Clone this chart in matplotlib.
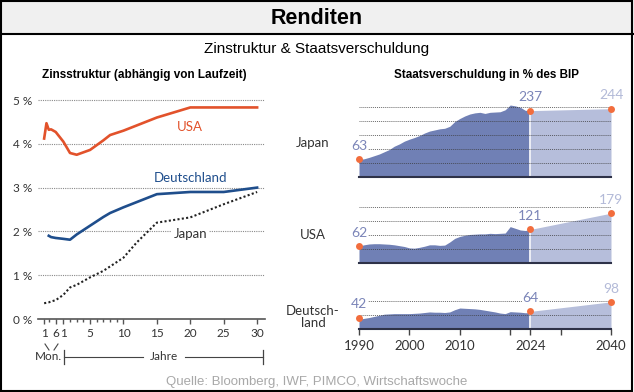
import numpy as np
import matplotlib
matplotlib.use("Agg")
import matplotlib.pyplot as plt
from matplotlib import font_manager
from matplotlib.lines import Line2D
from matplotlib.patches import Rectangle

# --- yield curve (left) ---
MATURITY = [1/12, 2/12, 3/12, 4/12, 6/12, 1, 2, 3, 5, 7, 8, 10, 12, 15, 20, 25, 30]
USA_YIELD = [4.12, 4.47, 4.32, 4.33, 4.27, 4.05, 3.79, 3.75, 3.86, 4.08, 4.20, 4.30, 4.42, 4.60, 4.83, 4.83, 4.83]
DE_YIELD = [np.nan, np.nan, 1.90, 1.87, 1.85, 1.83, 1.81, 1.93, 2.13, 2.33, 2.42, 2.55, 2.67, 2.85, 2.90, 2.90, 3.00]
JP_YIELD = [0.36, 0.37, 0.38, 0.40, 0.43, 0.55, 0.72, 0.78, 0.95, 1.10, 1.20, 1.40, 1.75, 2.20, 2.32, 2.62, 2.90]
YIELD_TICKS = [0, 1, 2, 3, 4, 5]
MAT_TICKS = [1/12, 0.5, 1, 5, 10, 15, 20, 25, 30]
MAT_TICK_LABELS = ["1", "6", "1", "5", "10", "15", "20", "25", "30"]
MAT_MINOR = [0.25, 2, 3, 4, 6, 7, 8, 9]

# --- debt in % of GDP (right) ---
YEARS = list(range(1990, 2025))
JP_DEBT = [63, 65, 70, 76, 82, 90, 98, 110, 118, 128, 135, 141, 148, 157, 164, 168, 172, 174,
           181, 198, 209, 218, 225, 229, 231, 227, 231, 232, 233, 240, 257, 254, 249, 238, 237]
US_DEBT = [62, 66, 69, 70, 70, 69, 68, 66, 63, 60, 55, 54, 57, 61, 66, 66, 64, 65,
           76, 89, 96, 100, 103, 104, 105, 105, 107, 106, 107, 108, 131, 125, 119, 117, 121]
DE_DEBT = [36, 39, 42, 46, 50, 54, 55, 56, 56, 56, 56, 57, 58, 60, 62, 61, 61, 60,
           62, 70, 76, 75, 74, 73, 71, 68, 65, 62, 58, 56, 63, 62, 61, 59, 60]
PROJ_YEARS = [2024, 2040]
JP_PROJ = [237, 244]
US_PROJ = [121, 179]
DE_PROJ = [64, 98]
JP_MARKS = [63, 237, 244]
US_MARKS = [62, 121, 179]
DE_MARKS = [42, 64, 98]
MARK_YEARS = [1990, 2024, 2040]
YEAR_TICKS = [1990, 2000, 2010, 2020, 2024, 2030, 2040]
YEAR_TICK_LABELS = ["1990", "2000", "2010", "", "2024", "", "2040"]

W, H = 634, 392
names = {f.name for f in font_manager.fontManager.ttflist}
NARROW = "Liberation Sans Narrow" if "Liberation Sans Narrow" in names else "Liberation Sans"
ROUND = "Lato"

ORANGE = "#e2522b"
BLUE = "#1f4e8c"
DARK_AREA = "#7080b5"
LIGHT_AREA = "#b6bedb"
DARK_LBL = "#7b85b8"
LIGHT_LBL = "#b3bad8"
DOT = "#f26d3d"


def box(left, top, right, bottom):
    return [left / W, 1 - bottom / H, (right - left) / W, (bottom - top) / H]


def fx(x):
    return x / W


def fy(y):
    return 1 - y / H


# piecewise maturity scale: months squeezed left of the 1-year mark
_X = [-10, 1/12, 0.5, 1]
_P = [-1.87 - 4.15 * (10 + 1/12), -1.87, -0.14, 1]


def fwd(x):
    x = np.asarray(x, dtype=float)
    return np.where(x >= 1, x, np.interp(x, _X, _P))


def inv(p):
    p = np.asarray(p, dtype=float)
    return np.where(p >= 1, p, np.interp(p, _P, _X))


fig = plt.figure(figsize=(W / 100, H / 100), dpi=100)
fig.patch.set_facecolor("white")

# header bar and frame
fig.add_artist(Rectangle((0, fy(34)), 1, 34 / H, transform=fig.transFigure,
                         facecolor="#f0f0f0", edgecolor="none"))
fig.add_artist(Line2D([0, 1], [fy(34), fy(34)], color="black", lw=1.5))
fig.add_artist(Rectangle((fx(0.8), fy(390.5)), fx(632) - fx(0.8), fy(0.8) - fy(390.5),
                         transform=fig.transFigure, facecolor="none",
                         edgecolor="black", lw=1.5))
fig.text(0.5, fy(18), "Renditen", ha="center", va="center", fontsize=15.5,
         fontweight="bold", family=NARROW)
fig.text(fx(317), fy(49), "Zinstruktur & Staatsverschuldung", ha="center",
         va="center", fontsize=11, family=NARROW)
fig.text(fx(317), fy(382), "Quelle: Bloomberg, IWF, PIMCO, Wirtschaftswoche",
         ha="center", va="center", fontsize=9.5, color="#a8a8a8",
         family="Liberation Sans")

# ---------------- left: yield curve ----------------
px_per_pct = 43.8
ax = fig.add_axes(box(38, 319 - 5.05 * px_per_pct, 265, 319))
ax.set_xscale("function", functions=(fwd, inv))
ax.set_xlim(float(inv(-2.79)), 31.18)
ax.set_ylim(0, 5.05)
for v in YIELD_TICKS[1:]:
    ax.axhline(v, color="#8a8a8a", lw=0.8, ls=(0, (1, 1)), zorder=1)
ax.plot(MATURITY, JP_YIELD, color="#222222", lw=1.5, ls=(0, (1, 1.1)), zorder=3)
ax.plot(MATURITY, DE_YIELD, color=BLUE, lw=1.9, zorder=4)
ax.plot(MATURITY, USA_YIELD, color=ORANGE, lw=1.9, zorder=4)

ax.text(20, 4.38, "USA", color=ORANGE, ha="center", va="center", fontsize=9.5, family=ROUND)
ax.text(20, 3.22, "Deutschland", color=BLUE, ha="center", va="center", fontsize=9.5, family=ROUND)
ax.text(20, 1.94, "Japan", color="#333333", ha="center", va="center", fontsize=9.5,
        family=ROUND, zorder=2,
        bbox=dict(facecolor="white", edgecolor="none", pad=1.5))

for s in ["top", "right", "left"]:
    ax.spines[s].set_visible(False)
ax.spines["bottom"].set_color("#555555")
ax.spines["bottom"].set_linewidth(1.2)
ax.set_yticks(YIELD_TICKS)
ax.set_yticklabels([f"{v} %" for v in YIELD_TICKS], fontsize=8.5, family=ROUND, color="#333333")
ax.tick_params(axis="y", length=0, pad=4)
ax.set_xticks(MAT_TICKS)
ax.set_xticklabels(MAT_TICK_LABELS, fontsize=8.5, family=ROUND, color="#333333")
ax.set_xticks(MAT_MINOR, minor=True)
ax.tick_params(axis="x", which="major", length=3.6, width=1, color="#555555", pad=3)
ax.tick_params(axis="x", which="minor", length=2.4, width=1, color="#555555")
ax.set_facecolor("none")
fig.text(fx(42), fy(75), "Zinsstruktur (abhängig von Laufzeit)", ha="left", va="center",
         fontsize=8.5, fontweight="bold", family="Liberation Sans")

# month / year brackets under the axis
lc = "#444444"
fig.add_artist(Line2D([fx(45), fx(49)], [fy(344), fy(350)], color=lc, lw=0.8))
fig.add_artist(Line2D([fx(58), fx(54)], [fy(344), fy(350)], color=lc, lw=0.8))
fig.text(fx(48), fy(357), "Mon.", ha="center", va="center", fontsize=8.5, family=ROUND, color="#333333")
fig.add_artist(Line2D([fx(64), fx(64)], [fy(350), fy(364)], color=lc, lw=0.9))
fig.add_artist(Line2D([fx(64), fx(143)], [fy(357), fy(357)], color=lc, lw=0.8))
fig.text(fx(164), fy(357), "Jahre", ha="center", va="center", fontsize=8.5, family=ROUND, color="#333333")
fig.add_artist(Line2D([fx(185), fx(263)], [fy(357), fy(357)], color=lc, lw=0.8))
fig.add_artist(Line2D([fx(263), fx(263)], [fy(350), fy(364)], color=lc, lw=0.9))

# ---------------- right: debt panels ----------------
fig.text(fx(487), fy(75), "Staatsverschuldung in % des BIP", ha="center", va="center",
         fontsize=8.4, fontweight="bold", family="Liberation Sans")

px_per_unit = 0.28
panels = [
    ("Japan", JP_DEBT, JP_PROJ, JP_MARKS, 177, 260, [50, 100, 150, 200, 250], 143),
    ("USA", US_DEBT, US_PROJ, US_MARKS, 263.3, 205, [50, 100, 150, 200], 235),
    ("Deutsch-\nland", DE_DEBT, DE_PROJ, DE_MARKS, 329.3, 105, [50, 100], 317),
]
for i, (name, hist, proj, marks, base, top, grid, label_y) in enumerate(panels):
    a = fig.add_axes(box(359, base - top * px_per_unit, 611, base))
    a.set_xlim(1990, 2040)
    a.set_ylim(0, top)
    a.fill_between(YEARS, hist, color=DARK_AREA, lw=0, zorder=1)
    a.fill_between(PROJ_YEARS, proj, color=LIGHT_AREA, lw=0, zorder=1)
    a.axvline(2024, color="white", lw=1.2, zorder=2)
    for g in grid:
        a.axhline(g, color="#3a3a3a", lw=0.7, ls=(0, (1, 1)), alpha=0.75, zorder=3)
    a.plot(MARK_YEARS, marks, "o", color=DOT, ms=5, mec="none", zorder=6, clip_on=False)
    for j, (yr, v) in enumerate(zip(MARK_YEARS, marks)):
        col = LIGHT_LBL if j == 2 else DARK_LBL
        a.annotate(str(v), (yr, v), xytext=(0, 9.5), textcoords="offset points",
                   ha="center", va="center", fontsize=10, color=col, family=ROUND,
                   zorder=5, annotation_clip=False,
                   bbox=dict(facecolor="white", edgecolor="none", pad=0.5))
    for s in ["top", "right", "left"]:
        a.spines[s].set_visible(False)
    a.spines["bottom"].set_color("#2e3248")
    a.spines["bottom"].set_linewidth(1.5)
    a.spines["bottom"].set_zorder(7)
    a.set_yticks([])
    a.set_facecolor("none")
    if i == 2:
        a.set_xticks(YEAR_TICKS)
        a.set_xticklabels(YEAR_TICK_LABELS, fontsize=9.5, family=ROUND, color="#333333")
        a.tick_params(axis="x", length=4, width=1, color="#444444", pad=4)
    else:
        a.set_xticks([])
    fig.text(fx(313), fy(label_y), name, ha="center", va="center", fontsize=9.5,
             family=ROUND, color="#333333", linespacing=1.0)

fig.savefig("out.png", dpi=100)
